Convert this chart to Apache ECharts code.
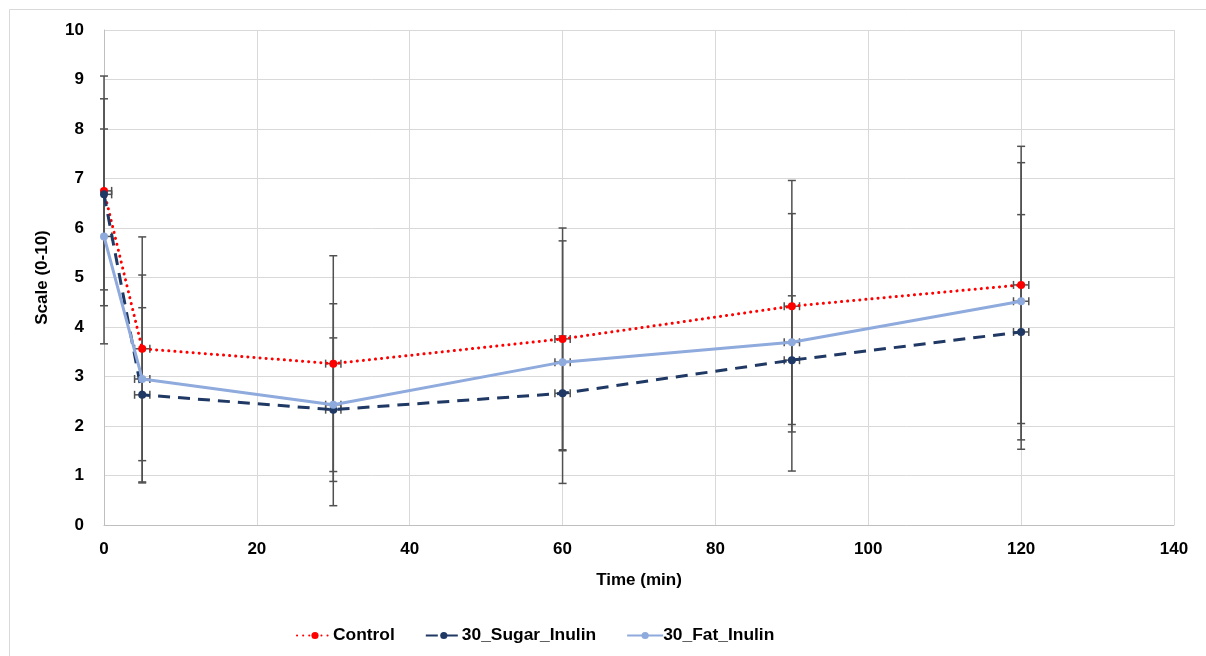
<!DOCTYPE html>
<html>
<head>
<meta charset="utf-8">
<script src="https://cdn.jsdelivr.net/npm/echarts@6/dist/echarts.min.js"></script>
<style>
  html, body { margin: 0; padding: 0; background: #fff; }
  #chart { width: 1206px; height: 656px; }
</style>
</head>
<body>
<div id="chart"></div>
<script>
// Sampling times (min)
const times = [0, 5, 30, 60, 90, 120];

// Mean scores (0-10) and standard deviations per group
const control     = [6.75, 3.56, 3.26, 3.76, 4.42, 4.85];
const controlSD   = [2.32, 2.26, 2.18, 2.24, 2.54, 2.80];
const sugarInulin = [6.68, 2.63, 2.33, 2.66, 3.33, 3.90];
const sugarSD     = [1.93, 1.76, 1.45, 1.16, 1.30, 2.37];
const fatInulin   = [5.83, 2.95, 2.43, 3.29, 3.69, 4.52];
const fatSD       = [2.17, 2.10, 2.04, 2.45, 2.60, 2.80];

// Horizontal (time) error half-width, min
const timeErr = 1;

const xTicks = [0, 20, 40, 60, 80, 100, 120, 140];
const yTicks = [0, 1, 2, 3, 4, 5, 6, 7, 8, 9, 10];

const FONT = 'Liberation Sans, Arial, sans-serif';
const ERR_COLOR = '#505050';

function pairs(vals) { return times.map((t, i) => [t, vals[i]]); }
function errData(vals, sds) { return times.map((t, i) => [t, vals[i], sds[i]]); }

// Vertical SD bar plus a short time bar, each with end caps;
// the time bar is cut at the start of the axis.
function renderErr(params, api) {
  const x = api.value(0), y = api.value(1), sd = api.value(2);
  const xMin = xTicks[0];
  const top = api.coord([x, y + sd]);
  const bot = api.coord([x, y - sd]);
  const leftX = Math.max(x - timeErr, xMin);
  const left = api.coord([leftX, y]);
  const right = api.coord([x + timeErr, y]);
  const c = 4;
  const style = { stroke: ERR_COLOR, lineWidth: 1.5, fill: null };
  const line = (x1, y1, x2, y2) => ({ type: 'line', shape: { x1, y1, x2, y2 }, style });
  const children = [
    line(top[0], top[1], bot[0], bot[1]),
    line(top[0] - c, top[1], top[0] + c, top[1]),
    line(bot[0] - c, bot[1], bot[0] + c, bot[1]),
    line(left[0], left[1], right[0], right[1]),
    line(right[0], right[1] - c, right[0], right[1] + c)
  ];
  if (x - timeErr >= xMin) children.push(line(left[0], left[1] - c, left[0], left[1] + c));
  return { type: 'group', children };
}

function errSeries(name, vals, sds) {
  return {
    name: name + ' SD',
    type: 'custom',
    renderItem: renderErr,
    data: errData(vals, sds),
    encode: { x: 0, y: 1 },
    clip: false,
    z: 1,
    silent: true
  };
}

const chart = echarts.init(document.getElementById('chart'), null, { renderer: 'canvas' });

chart.setOption({
  animation: false,
  backgroundColor: '#fff',
  textStyle: { fontFamily: FONT },
  graphic: [{
    type: 'rect',
    shape: { x: 9.5, y: 9.5, width: 1210, height: 660 },
    style: { fill: null, stroke: '#d9d9d9', lineWidth: 1 },
    silent: true
  }],
  grid: { left: 104, right: 32, top: 30, bottom: 131 },
  xAxis: {
    type: 'value',
    min: xTicks[0],
    max: xTicks[xTicks.length - 1],
    interval: 20,
    name: 'Time (min)',
    nameLocation: 'middle',
    nameGap: 47,
    nameTextStyle: { fontSize: 17, fontWeight: 'bold', color: '#000', fontFamily: FONT },
    axisLine: { show: true, lineStyle: { color: '#bfbfbf', width: 1 } },
    axisTick: { show: false },
    axisLabel: { fontSize: 17, fontWeight: 'bold', color: '#000', margin: 16, fontFamily: FONT },
    splitLine: { show: true, lineStyle: { color: '#d9d9d9', width: 1 } }
  },
  yAxis: {
    type: 'value',
    min: yTicks[0],
    max: yTicks[yTicks.length - 1],
    interval: 1,
    name: 'Scale (0-10)',
    nameLocation: 'middle',
    nameGap: 53,
    nameTextStyle: { fontSize: 17, fontWeight: 'bold', color: '#000', fontFamily: FONT },
    axisLine: { show: true, lineStyle: { color: '#bfbfbf', width: 1 } },
    axisTick: { show: false },
    axisLabel: { fontSize: 17, fontWeight: 'bold', color: '#000', margin: 20, fontFamily: FONT },
    splitLine: { show: true, lineStyle: { color: '#d9d9d9', width: 1 } }
  },
  legend: {
    data: ['Control', '30_Sugar_Inulin', '30_Fat_Inulin'],
    left: 291,
    top: 622,
    itemWidth: 36,
    itemHeight: 9,
    itemGap: 30,
    textStyle: { fontSize: 17.4, fontWeight: 'bold', color: '#000', fontFamily: FONT, padding: [0, 0, 0, -5] }
  },
  series: [
    errSeries('Control', control, controlSD),
    errSeries('30_Sugar_Inulin', sugarInulin, sugarSD),
    errSeries('30_Fat_Inulin', fatInulin, fatSD),
    {
      name: 'Control',
      type: 'line',
      data: pairs(control),
      symbol: 'circle',
      symbolSize: 8,
      z: 3,
      itemStyle: { color: '#ff0000' },
      lineStyle: { color: '#ff0000', width: 3, type: [0.1, 6], cap: 'round' }
    },
    {
      name: '30_Sugar_Inulin',
      type: 'line',
      data: pairs(sugarInulin),
      symbol: 'circle',
      symbolSize: 8,
      z: 3,
      itemStyle: { color: '#1f3864' },
      lineStyle: { color: '#1f3864', width: 3, type: [12, 8] }
    },
    {
      name: '30_Fat_Inulin',
      type: 'line',
      data: pairs(fatInulin),
      symbol: 'circle',
      symbolSize: 8,
      z: 3,
      itemStyle: { color: '#8faadc' },
      lineStyle: { color: '#8faadc', width: 3, type: 'solid' }
    }
  ]
});
</script>
</body>
</html>
